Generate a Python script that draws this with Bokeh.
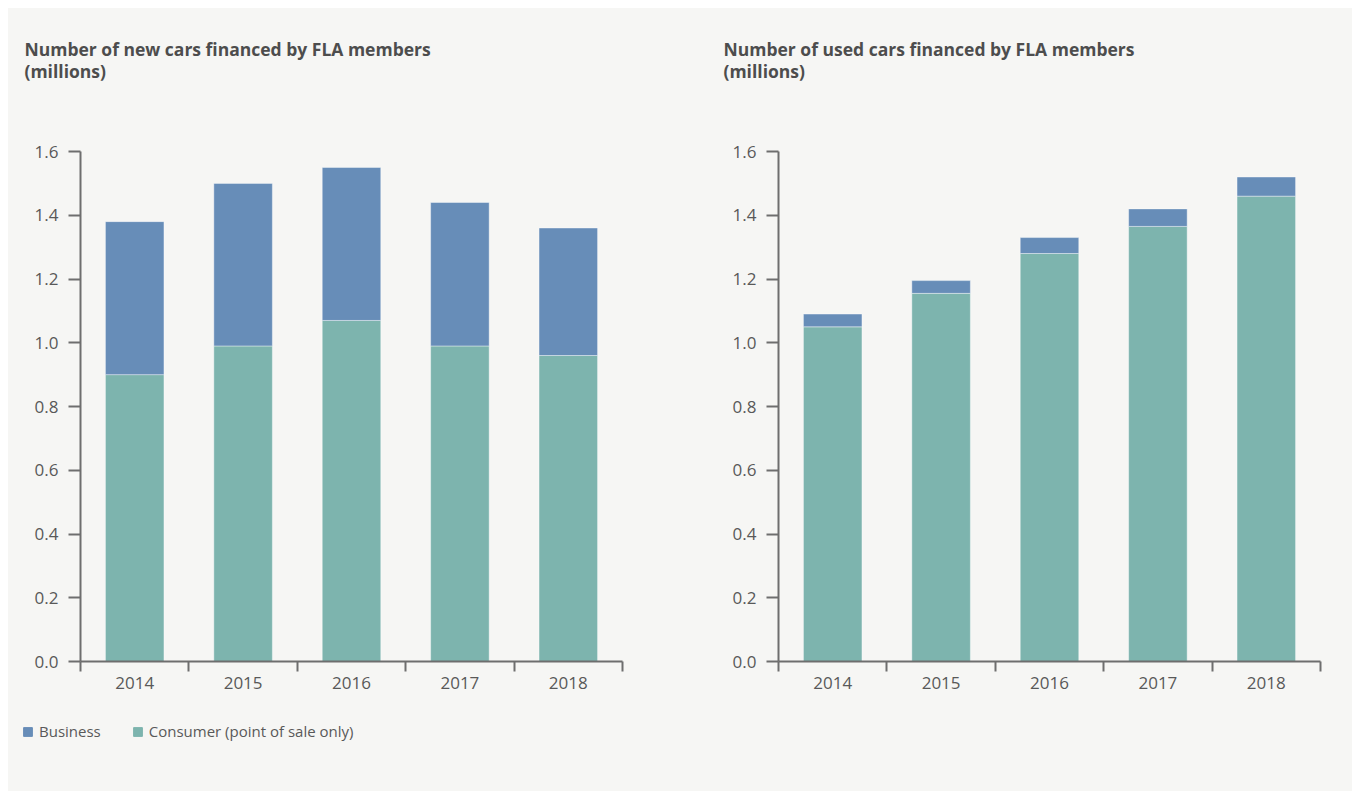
from bokeh.plotting import figure
from bokeh.models import (FixedTicker, Range1d, Title, Legend, LegendItem,
                          NumeralTickFormatter, ColumnDataSource)
from bokeh.layouts import row, column
from bokeh.embed import file_html
from bokeh.resources import INLINE

years = ["2014", "2015", "2016", "2017", "2018"]
new_consumer = [0.90, 0.99, 1.07, 0.99, 0.96]
new_business = [0.48, 0.51, 0.48, 0.45, 0.40]
used_consumer = [1.05, 1.155, 1.28, 1.365, 1.46]
used_business = [0.04, 0.04, 0.05, 0.055, 0.06]
y_ticks = [0.0, 0.2, 0.4, 0.6, 0.8, 1.0, 1.2, 1.4, 1.6]
series_labels = ["Business", "Consumer (point of sale only)"]

BLUE = "#678db8"
TEAL = "#7db4ae"
BG = "#f6f6f4"
AX = "#6e6e6e"
TXT = "#595959"
TITLE_TXT = "#4d4d4d"
FONT = "Open Sans"


def make_chart(title, consumer, business, border_left, border_right, title_offset):
    x = [i + 0.5 for i in range(len(years))]
    src = ColumnDataSource(dict(x=x, consumer=consumer, business=business))
    p = figure(width=672, height=702, x_range=Range1d(0, len(years)),
               y_range=Range1d(0, 1.6), output_backend="svg",
               toolbar_location=None, min_border_left=border_left,
               min_border_right=border_right, min_border_top=143,
               min_border_bottom=49)
    p.background_fill_color = BG
    p.border_fill_color = BG
    p.outline_line_color = None
    p.grid.visible = False

    rs = p.vbar_stack(["consumer", "business"], x="x", width=0.54,
                      color=[TEAL, BLUE], line_color="#ffffff", line_alpha=0.4,
                      line_width=1, source=src)

    xa = p.xaxis[0]
    xa.ticker = FixedTicker(ticks=x, minor_ticks=list(range(len(years) + 1)))
    xa.major_label_overrides = {xx: y for xx, y in zip(x, years)}
    xa.major_tick_out = 0
    xa.major_tick_in = 0
    xa.minor_tick_out = 10
    xa.minor_tick_in = 0
    xa.minor_tick_line_color = AX
    xa.minor_tick_line_width = 2
    xa.axis_line_color = AX
    xa.axis_line_width = 2
    xa.major_label_standoff = 5
    xa.major_label_text_font = FONT
    xa.major_label_text_font_size = "17px"
    xa.major_label_text_color = TXT

    ya = p.yaxis[0]
    ya.ticker = FixedTicker(ticks=y_ticks, minor_ticks=[])
    ya.formatter = NumeralTickFormatter(format="0.0")
    ya.major_tick_out = 12
    ya.major_tick_in = 0
    ya.minor_tick_out = 0
    ya.minor_tick_in = 0
    ya.major_tick_line_color = AX
    ya.major_tick_line_width = 2
    ya.axis_line_color = AX
    ya.axis_line_width = 2
    ya.major_label_standoff = 10
    ya.major_label_text_font = FONT
    ya.major_label_text_font_size = "17px"
    ya.major_label_text_color = TXT

    # trailing blank lines lift the two-line title away from the plot frame
    p.add_layout(Title(text=title + "\n(millions)\n \n \n ", align="left",
                       offset=title_offset, standoff=5, text_font=FONT,
                       text_font_size="17.5px", text_line_height=0.92,
                       text_font_style="bold", text_color=TITLE_TXT), "above")
    return p, rs


p1, rs1 = make_chart("Number of new cars financed by FLA members",
                     new_consumer, new_business, 72, 58, -56)
p2, rs2 = make_chart("Number of used cars financed by FLA members",
                     used_consumer, used_business, 98, 32, -55)

# legend strip under the two charts (its bars lie outside the visible range)
pl = figure(width=1344, height=81, x_range=Range1d(0, 1), y_range=Range1d(0, 1),
            output_backend="svg", toolbar_location=None,
            x_axis_location=None, y_axis_location=None,
            min_border=0)
pl.background_fill_color = BG
pl.border_fill_color = BG
pl.outline_line_color = None
pl.grid.visible = False
hidden = ColumnDataSource(dict(x=[-10.0], top=[-10.0]))
r_bus = pl.vbar(x="x", top="top", width=0.1, color=BLUE, source=hidden)
r_con = pl.vbar(x="x", top="top", width=0.1, color=TEAL, source=hidden)
legend = Legend(items=[LegendItem(label=series_labels[0], renderers=[r_bus]),
                       LegendItem(label=series_labels[1], renderers=[r_con])],
                location=(14, 50), orientation="horizontal",
                background_fill_alpha=0, border_line_color=None,
                padding=0, margin=0, spacing=31, glyph_width=11, glyph_height=11,
                label_standoff=6, label_text_font=FONT, label_text_font_size="15px",
                label_text_color=TXT, label_height=11)
pl.add_layout(legend, "center")

layout = column(row(p1, p2, spacing=0, styles={"background-color": BG}), pl,
                spacing=0, margin=(8, 0, 0, 8), styles={"background-color": BG})
open("out.html", "w").write(file_html(layout, INLINE))
